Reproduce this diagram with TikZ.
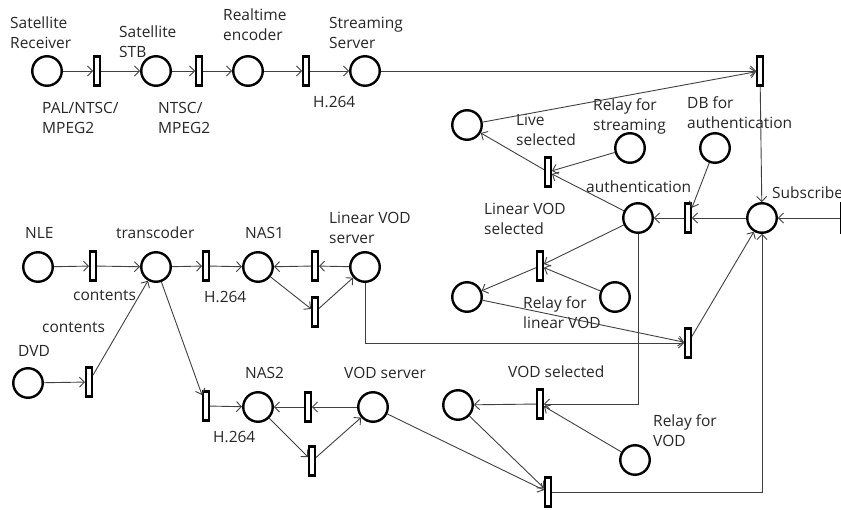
\documentclass[tikz,border=0pt]{standalone}
\usepackage{fontspec}
\setmainfont{Open Sans}
\usepackage{tikz}
\usetikzlibrary{arrows.meta}

\begin{document}
\begin{tikzpicture}[
  x=1pt, y=-1pt,
  font=\fontsize{15.5}{20}\selectfont,
  place/.style={circle,draw=black,line width=2.4pt,fill=white,minimum size=29.5pt,inner sep=0pt},
  trans/.style={rectangle,draw=black,line width=2.4pt,fill=white,minimum width=5.5pt,minimum height=29pt,inner sep=0pt},
  lbl/.style={anchor=north west,align=left,inner sep=0pt,text=black!85},
  arr/.style={-{Straight Barb[length=5pt,width=10pt]},draw=black!75,line width=0.9pt}
]
\useasboundingbox (0,0) rectangle (841,510);

% places
\node[place] (srx)   at (47,71)   {};
\node[place] (stb)   at (156,71)  {};
\node[place] (enc)   at (248,71)  {};
\node[place] (strm)  at (365,71)  {};
\node[place] (live)  at (467,125) {};
\node[place] (rstrm) at (630,148) {};
\node[place] (db)    at (715,148) {};
\node[place] (auth)  at (638,218) {};
\node[place] (sub)   at (762,218) {};
\node[place] (lvod)  at (467,297) {};
\node[place] (rlvod) at (615,297) {};
\node[place] (vod)   at (458,405) {};
\node[place] (rvod)  at (635,460) {};
\node[place] (nle)   at (38,267)  {};
\node[place] (tcod)  at (156,267) {};
\node[place] (nas1)  at (258,267) {};
\node[place] (lvsrv) at (365,267) {};
\node[place] (dvd)   at (28,383)  {};
\node[place] (nas2)  at (258,407) {};
\node[place] (vsrv)  at (373,407) {};

% transitions
\node[trans] (t1)    at (97,71)   {};
\node[trans] (t2)    at (199,71)  {};
\node[trans] (t3)    at (306,71)  {};
\node[trans] (tlive) at (760,71)  {};
\node[trans] (tsel)  at (548,172) {};
\node[trans] (tauth) at (688,218) {};
\node[trans] (tsub)  at (844,218) {};
\node[trans] (tlsel) at (540,266) {};
\node[trans] (tlin)  at (688,343) {};
\node[trans] (tvsel) at (540,404) {};
\node[trans] (tvod)  at (548,492) {};
\node[trans] (tnle)  at (93,266)  {};
\node[trans] (tdvd)  at (89,382)  {};
\node[trans] (th1)   at (206,266) {};
\node[trans] (tb1)   at (315,266) {};
\node[trans] (tl1)   at (315,312) {};
\node[trans] (th2)   at (206,406) {};
\node[trans] (tb2)   at (308,407) {};
\node[trans] (tl2)   at (312,461) {};

% labels
\node[lbl] (txsrx)   at (10,17)   {Satellite\\Receiver};
\node[lbl] (txfmt1)  at (42,102)  {PAL/NTSC/\\MPEG2};
\node[lbl] (txstb)   at (119,26)  {Satellite\\STB};
\node[lbl] (txfmt2)  at (158,102) {NTSC/\\MPEG2};
\node[lbl] (txenc)   at (223,9)   {Realtime\\encoder};
\node[lbl] (txstrm)  at (329,17)  {Streaming\\Server};
\node[lbl] (txh0)    at (313,96)  {H.264};
\node[lbl] (txlive)  at (516,114) {Live\\selected};
\node[lbl] (txrstrm) at (593,98)  {Relay for\\streaming};
\node[lbl] (txdb)    at (687,96)  {DB for\\authentication};
\node[lbl] (txauth)  at (586,181) {authentication};
\node[lbl] (txsub)   at (772,187) {Subscriber};
\node[lbl] (txlsel)  at (484,203) {Linear VOD\\selected};
\node[lbl] (txrlvod) at (523,296) {Relay for\\linear VOD};
\node[lbl] (txvsel)  at (508,366) {VOD selected};
\node[lbl] (txrvod)  at (653,414) {Relay for\\VOD};
\node[lbl] (txnle)   at (25,227)  {NLE};
\node[lbl] (txtcod)  at (116,227) {transcoder};
\node[lbl] (txnas1)  at (245,227) {NAS1};
\node[lbl] (txlvsrv) at (329,212) {Linear VOD\\server};
\node[lbl] (txcnt1)  at (73,290)  {contents};
\node[lbl] (txh1)    at (204,291) {H.264};
\node[lbl] (txcnt2)  at (42,322)  {contents};
\node[lbl] (txdvd)   at (18,345)  {DVD};
\node[lbl] (txnas2)  at (245,367) {NAS2};
\node[lbl] (txvsrv)  at (344,367) {VOD server};
\node[lbl] (txh2)    at (213,431) {H.264};

% arcs
\draw[arr] (srx) -- (t1);
\draw[arr] (t1) -- (stb);
\draw[arr] (stb) -- (t2);
\draw[arr] (t2) -- (enc);
\draw[arr] (enc) -- (t3);
\draw[arr] (t3) -- (strm);
\draw[arr] (strm) -- (tlive);
\draw[arr] (live) -- (tlive);
\draw[arr] (tlive) -- (sub);
\draw[arr] (tsub) -- (sub);
\draw[arr] (sub) -- (tauth);
\draw[arr] (db) -- (tauth);
\draw[arr] (tauth) -- (auth);
\draw[arr] (auth) -- (tsel);
\draw[arr] (rstrm) -- (tsel);
\draw[arr] (tsel) -- (live);
\draw[arr] (auth) -- (tlsel);
\draw[arr] (rlvod) -- (tlsel);
\draw[arr] (tlsel) -- (lvod);
\draw[arr] (lvod) -- (tlin);
\draw[arr] (lvsrv) |- (tlin);
\draw[arr] (tlin) -- (sub);
\draw[arr] (auth) |- (tvsel);
\draw[arr] (rvod) -- (tvsel);
\draw[arr] (tvsel) -- (vod);
\draw[arr] (vod) -- (tvod);
\draw[arr] (vsrv) -- (tvod);
\draw[arr] (tvod) -| (sub);
\draw[arr] (nle) -- (tnle);
\draw[arr] (tnle) -- (tcod);
\draw[arr] (dvd) -- (tdvd);
\draw[arr] (tdvd) -- (tcod);
\draw[arr] (tcod) -- (th1);
\draw[arr] (th1) -- (nas1);
\draw[arr] (lvsrv) -- (tb1);
\draw[arr] (tb1) -- (nas1);
\draw[arr] (nas1) -- (tl1);
\draw[arr] (tl1) -- (lvsrv);
\draw[arr] (tcod) -- (th2);
\draw[arr] (th2) -- (nas2);
\draw[arr] (vsrv) -- (tb2);
\draw[arr] (tb2) -- (nas2);
\draw[arr] (nas2) -- (tl2);
\draw[arr] (tl2) -- (vsrv);
\end{tikzpicture}
\end{document}
